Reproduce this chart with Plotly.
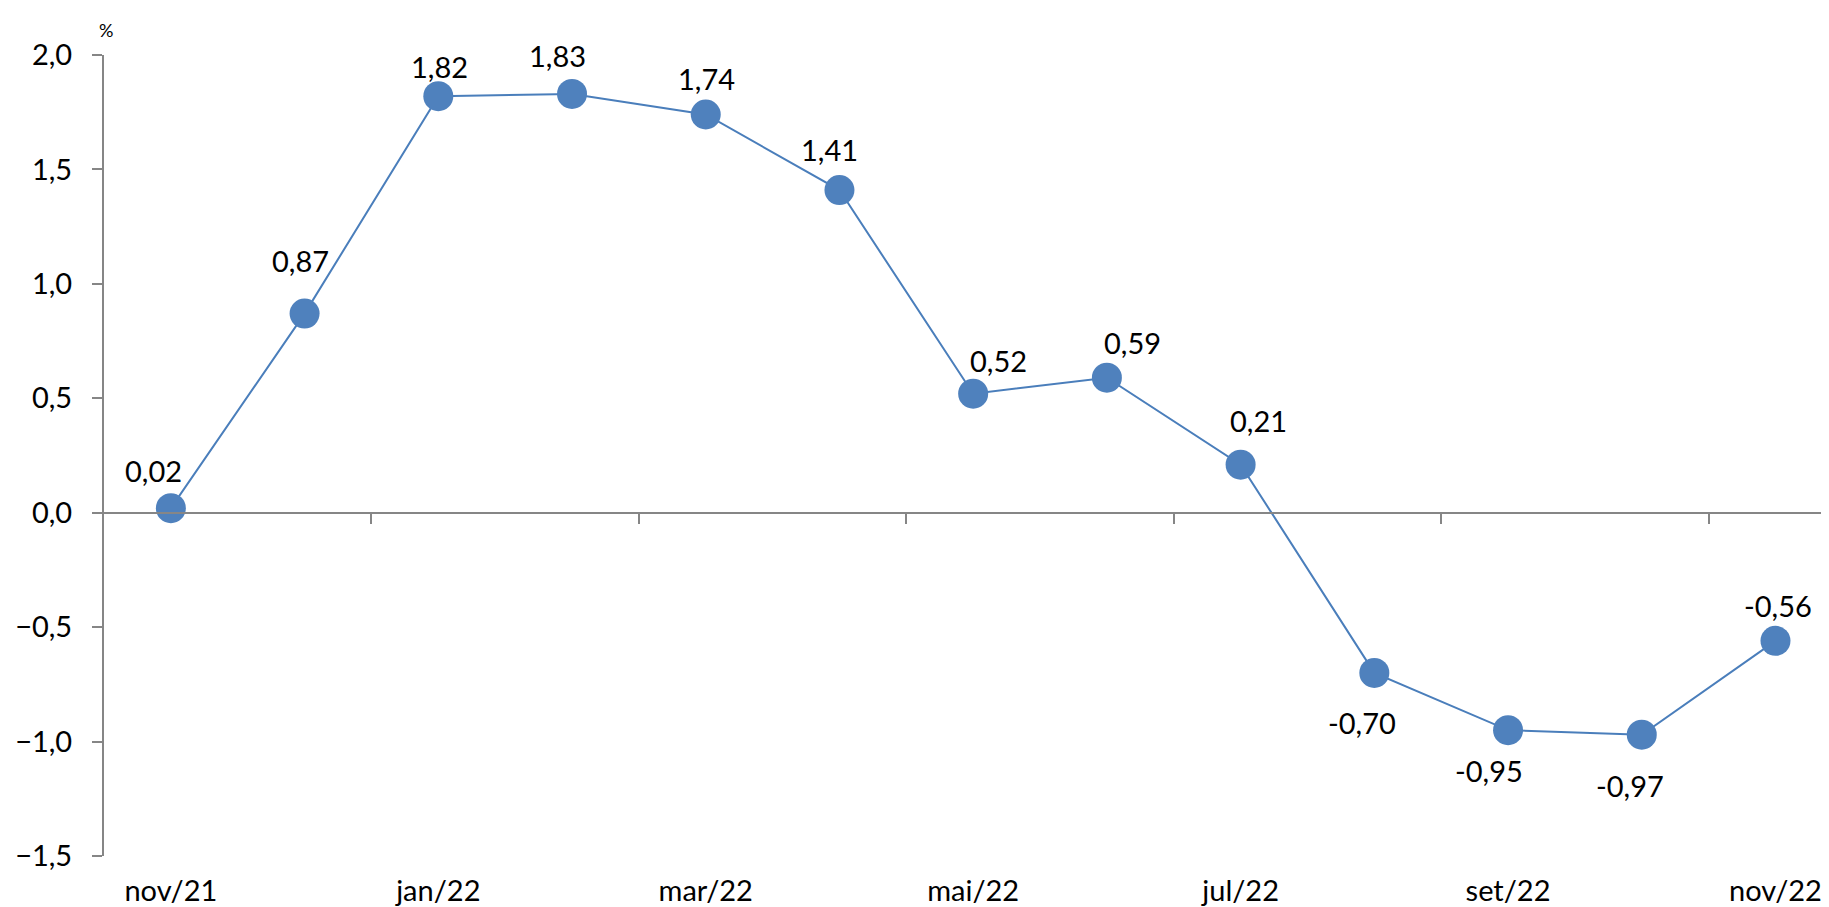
import plotly.graph_objects as go

# monthly variation, %
months = ["nov/21", "dez/21", "jan/22", "fev/22", "mar/22", "abr/22", "mai/22",
          "jun/22", "jul/22", "ago/22", "set/22", "out/22", "nov/22"]
values = [0.02, 0.87, 1.82, 1.83, 1.74, 1.41, 0.52, 0.59, 0.21, -0.70, -0.95, -0.97, -0.56]

y_min, y_max = -1.5, 2.0
y_ticks = [-1.5, -1.0, -0.5, 0.0, 0.5, 1.0, 1.5, 2.0]

# label offsets in px (x, y), as the labels were placed in the original
label_shift = [(-17, 38), (-4, 53), (1, 30), (-15, 38), (1, 36), (-10, 41), (25, 33),
               (26, 35), (18, 44), (-12, -50), (-19, -40), (-12, -51), (3, 35)]

FONT = "Lato"
AXIS_GREY = "#868686"
BLUE = "#4F81BD"

idx = list(range(len(months)))
x_range = [-0.5, 12.46]

fig = go.Figure()
fig.add_trace(go.Scatter(
    x=idx, y=values, mode="lines+markers",
    line=dict(color="#4A7EBB", width=2),
    marker=dict(size=30, color=BLUE),
    hoverinfo="skip", showlegend=False,
))
# empty trace so the bottom label axis gets drawn
fig.add_trace(go.Scatter(x=[], y=[], xaxis="x2", showlegend=False, hoverinfo="skip"))

for i, v in enumerate(values):
    dx, dy = label_shift[i]
    fig.add_annotation(
        x=idx[i], y=v, text=f"{v:.2f}".replace(".", ","),
        showarrow=False, xshift=dx, yshift=dy,
        font=dict(family=FONT, size=29, color="black"),
    )

fig.add_annotation(
    xref="paper", yref="paper", x=0, y=1, xanchor="center", yanchor="bottom",
    text="%", showarrow=False, yshift=12, xshift=2,
    font=dict(family=FONT, size=18, color="black"),
)

fig.update_layout(
    width=1829, height=907,
    margin=dict(l=96, r=0, t=47, b=59),
    plot_bgcolor="white", paper_bgcolor="white",
    separators=",.",
    xaxis=dict(
        range=x_range, anchor="free", position=(0 - y_min) / (y_max - y_min),
        showline=True, linecolor=AXIS_GREY, linewidth=2,
        tickvals=[i + 0.5 for i in idx[1:-1:2]], ticks="outside", ticklen=10,
        tickcolor=AXIS_GREY, tickwidth=2, showticklabels=False,
        showgrid=False, zeroline=False,
    ),
    xaxis2=dict(
        range=x_range, overlaying="x", anchor="y", side="bottom",
        tickvals=idx[::2], ticktext=months[::2], ticks="", showline=False,
        showgrid=False, zeroline=False, ticklabelstandoff=15,
        tickfont=dict(family=FONT, size=29, color="black"),
    ),
    yaxis=dict(
        range=[y_min, y_max], tickvals=y_ticks, tickformat=".1f",
        showline=True, linecolor=AXIS_GREY, linewidth=2,
        ticks="outside", ticklen=10, tickcolor=AXIS_GREY, tickwidth=2,
        ticklabelstandoff=14,
        showgrid=False, zeroline=False,
        tickfont=dict(family=FONT, size=29, color="black"),
    ),
)

fig.write_html("out.html")
